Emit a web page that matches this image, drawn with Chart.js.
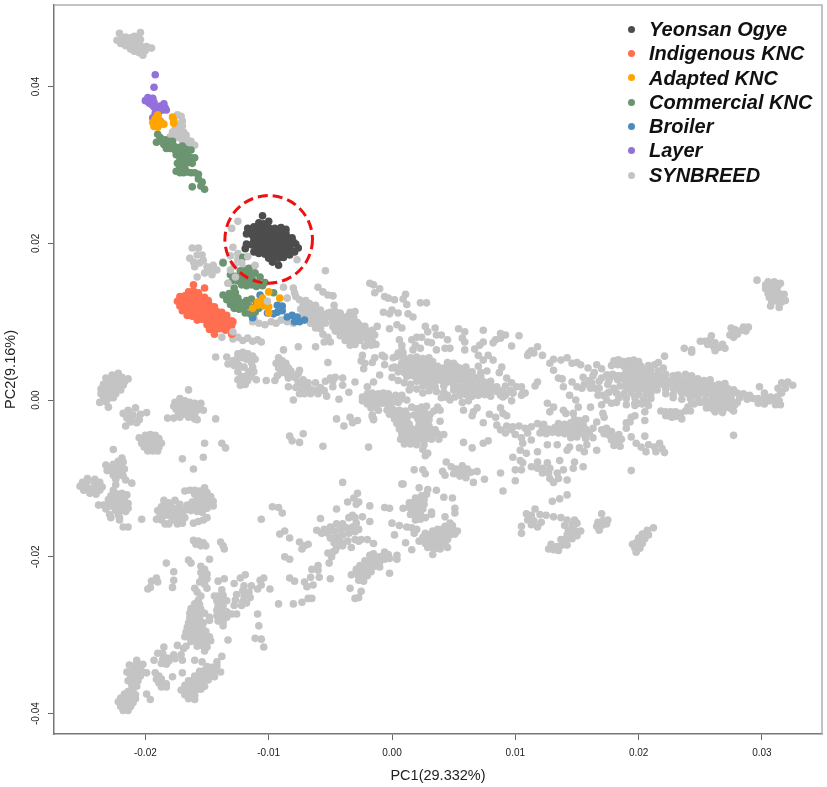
<!DOCTYPE html>
<html>
<head>
<meta charset="utf-8">
<script src="https://cdn.jsdelivr.net/npm/chart.js@4"></script>
<style>
html, body { margin: 0; padding: 0; background: #fff; }
#wrap { position: relative; width: 827px; height: 787px; }
#legend { position: absolute; left: 625px; top: 17px; font: italic bold 20px "Liberation Sans", sans-serif; color: #111; }
#legend div { height: 24.3px; line-height: 24.3px; white-space: nowrap; }
#legend i { display: inline-block; width: 7px; height: 7px; border-radius: 50%; margin: 0 14px 3px 3px; vertical-align: middle; }
</style>
</head>
<body>
<div id="wrap">
<canvas id="grafico" width="827" height="787"></canvas>
<div id="legend"></div>
</div>
<script>
// all scores are in units of 0.0001
const xTicks = [-0.02, -0.01, 0, 0.01, 0.02, 0.03];
const yTicks = [-0.04, -0.02, 0, 0.02, 0.04];
const seriesNames = ['Yeonsan Ogye', 'Indigenous KNC', 'Adapted KNC', 'Commercial KNC', 'Broiler', 'Layer', 'SYNBREED'];
const seriesColors = ['#4d4d4d', '#ff6e50', '#ffa500', '#6b9470', '#4a8bc0', '#9370db', '#c4c4c4'];

const yeonsan = [[-105,235],[-100,228],[-92,172],[-97,176],[-117,219],[-118,212],[-118,199],[-119,193],[-112,189],
[-108,226],[-104,225],[-112,221],[-108,220],[-104,222],[-100,220],[-95,219],[-90,220],[-86,218],
[-114,216],[-110,215],[-106,217],[-102,215],[-98,214],[-94,216],[-90,214],[-86,213],
[-113,210],[-109,209],[-105,211],[-101,209],[-97,210],[-93,208],[-89,210],[-85,208],[-81,207],
[-112,204],[-108,205],[-104,203],[-100,204],[-96,203],[-92,205],[-88,203],[-84,204],[-80,202],
[-114,198],[-110,199],[-106,197],[-102,199],[-98,197],[-94,198],[-90,199],[-86,197],[-82,198],[-78,199],
[-110,192],[-106,193],[-102,191],[-98,192],[-94,193],[-90,191],[-86,192],[-82,191],[-76,194],
[-108,187],[-103,186],[-99,187],[-95,185],[-91,186],[-87,187],[-83,185],[-79,189],[-100,181],[-96,180],[-92,181],[-88,182]];

const indigenous = [[-161,147],[-152,143],[-165,138],[-161,139],[-157,137],[-172,132],[-168,133],[-164,131],[-160,133],[-156,132],[-152,131],
[-174,126],[-170,127],[-166,125],[-162,127],[-158,125],[-154,126],[-149,127],[-172,120],[-168,121],[-164,119],[-160,121],[-156,119],[-152,120],[-148,121],[-144,119],
[-170,114],[-166,115],[-162,113],[-158,115],[-154,113],[-150,114],[-146,115],[-142,113],[-138,112],[-166,108],[-162,107],[-158,109],[-154,107],[-150,108],[-146,107],[-142,109],[-138,107],[-134,108],
[-158,102],[-154,103],[-150,101],[-146,103],[-142,101],[-138,102],[-134,103],[-130,101],[-150,96],[-146,95],[-142,97],[-138,95],[-134,96],[-130,95],[-148,90],[-144,89],[-140,91],[-135,89],[-131,90],[-144,84],[-130,84],[-129,100]];

const adapted = [[-190,364],[-192,359],[-189,357],[-194,354],[-191,352],[-188,352],[-193,349],[-190,348],[-187,354],[-185,352],[-178,361],[-177,357],[-177,353],
[-100,138],[-91,130],[-105,130],[-109,125],[-113,117],[-105,125],[-100,119],[-100,111],[-109,121],[-104,120]];

const commercial = [[-190,339],[-188,335],[-191,329],[-187,330],[-184,332],[-181,330],[-178,330],[-185,326],[-182,326],[-179,325],[-176,323],[-173,322],[-170,324],[-183,321],[-180,321],[-176,319],[-173,318],[-170,318],[-167,320],[-163,319],[-175,313],[-172,314],[-169,313],[-166,314],[-172,308],[-169,308],[-166,308],[-163,309],[-160,309],[-174,302],[-171,302],[-168,303],[-165,303],[-162,302],[-175,292],[-172,297],[-168,296],[-172,290],[-169,290],[-166,291],[-163,290],[-160,290],[-157,288],[-157,282],[-154,278],[-162,272],[-152,269],[-155,273],
[-121,182],[-137,175],[-131,160],[-127,158],[-123,160],[-119,158],[-115,160],[-111,162],[-107,157],[-103,150],[-129,153],[-125,152],[-121,153],[-117,152],[-113,153],[-109,150],[-105,146],[-122,147],[-118,146],[-114,147],[-110,145],[-123,165],[-119,165],[-116,168],
[-128,143],[-137,134],[-132,136],[-127,137],[-134,128],[-129,129],[-125,130],[-131,122],[-127,123],[-122,124],[-128,117],[-124,116],[-118,127],[-114,129],[-110,124],[-120,118],[-116,120],[-112,118],[-108,117],[-119,111],[-115,110],[-111,112],[-96,137]];

const broiler = [[-107,134],[-105,128],[-113,105],[-101,111],[-93,121],[-89,120],[-93,112],[-89,114],[-96,110],[-85,106],[-81,108],[-79,100],[-75,100],[-71,102],[-77,106]];

const layer = [[-192,415],[-193,399],[-200,382],[-198,386],[-196,383],[-194,385],[-197,379],[-195,377],[-193,380],[-193,374],[-190,372],[-188,375],[-185,378],[-184,373],[-186,370],[-183,370],[-189,368],[-192,366],[-190,363],[-194,360],[-192,356],[-188,356]];

// a few SYNBREED dots sit on top of the coloured ones
const synbreedOver = [[-101,126],[-127,157],[-133,149],[-129,87],[-138,80],[-122,175],[-131,166],[-111,172],[-117,183]];

const synbreedTopLeft = [[-221,468],[-204,469],[-223,459],[-219,461],[-216,463],[-212,462],[-209,464],[-206,463],[-204,460],[-220,455],[-217,456],[-214,458],[-211,457],[-208,458],[-205,456],[-216,452],[-213,452],[-210,453],[-207,452],[-204,452],[-201,450],[-199,451],[-195,449],[-212,448],[-209,448],[-206,447],[-203,446],[-200,446],[-202,440],[-205,443],[-209,445],
[-174,364],[-171,362],[-170,356],[-172,352],[-170,350],[-176,345],[-178,342],[-174,343],[-180,336],[-176,338],[-172,340],[-169,342],[-173,335],[-169,336],[-167,338],[-170,331],[-166,332],[-163,330],[-160,325],[-165,327]];

const synbreedCircle = [[-162,194],[-157,194],[-164,181],[-158,185],[-154,185],[-160,170],[-156,175],[-150,170],[-145,172],[-142,166],[-158,157],[-152,162],[-146,160],[-161,176],[-153,178],[-148,165],
[-125,228],[-130,219],[-129,195],[-131,184],[-137,176],[-119,195],[-125,187],[-122,175],[-127,157],[-133,149],[-77,179],[-54,165],[-88,144],[-80,143],[-125,180],[-128,172],[-120,168],[-112,170]];

const synbreedNearBroiler = [[-60,144],[-56,138],[-52,134],[-48,133],[-79,137],[-78,132],[-85,130],[-75,128],[-70,127],[-72,122],[-67,123],[-62,121],[-74,116],[-70,117],[-66,115],[-62,116],[-58,115],[-72,110],[-68,111],[-64,109],[-60,110],[-56,109],[-52,111],[-72,104],[-67,105],[-63,103],[-59,104],[-55,103],[-66,98],[-62,99],[-58,97],[-54,98],[-62,92],[-58,91],
[-56,84],[-52,80],[-55,74],[-50,74],[-113,100],[-108,98],[-103,96],[-98,100],[-94,98],[-90,102],[-85,100],[-80,98],[-112,104],[-129,78],[-125,80],[-121,76],[-117,79],[-113,75],[-109,77],[-106,74],[-88,64],[-76,68],[-62,68]];

const synbreedLeft = [[-222,34],[-227,32],[-232,28],[-224,29],[-219,29],[-214,27],[-229,24],[-225,24],[-221,23],[-217,23],[-234,20],[-230,19],[-226,18],[-222,18],[-218,19],[-236,14],[-232,13],[-228,13],[-224,13],[-220,13],[-236,8],[-232,8],[-228,7],[-224,8],[-234,3],[-230,2],[-226,3],[-237,-3],[-232,-2],[-230,-9],
[-208,-10],[-214,-13],[-218,-17],[-213,-16],[-210,-19],[-199,-16],[-204,-18],[-205,-25],[-216,-33],[-212,-28],[-207,-29],[-215,-23],[-211,-23],
[-165,13],[-172,2],[-176,-3],[-168,-1],[-164,-3],[-160,-4],[-155,-4],[-177,-8],[-173,-7],[-169,-7],[-165,-8],[-161,-9],[-156,-9],[-175,-12],[-171,-13],[-167,-13],[-163,-14],[-158,-13],[-153,-13],[-173,-18],[-169,-18],[-165,-18],[-160,-18],[-182,-23],[-177,-23],[-172,-22],[-165,-22],[-160,-24],[-158,-25],[-143,-24],
[-205,-48],[-200,-45],[-196,-44],[-192,-45],[-201,-50],[-197,-50],[-193,-50],[-189,-49],[-203,-55],[-199,-55],[-195,-55],[-191,-54],[-187,-55],[-201,-60],[-197,-60],[-193,-60],[-189,-60],[-198,-65],[-194,-65],[-190,-65],
[-152,-55],[-138,-55],[-135,-61],[-226,-63],[-170,-75],[-153,-73],[-161,-88],
[-219,-74],[-218,-79],[-222,-78],[-226,-82],[-220,-83],[-232,-83],[-229,-86],[-225,-87],[-221,-87],[-217,-88],[-231,-90],[-227,-91],[-223,-92],[-219,-92],[-226,-96],[-222,-96],[-218,-97],[-224,-101],
[-247,-100],[-241,-101],[-251,-105],[-247,-104],[-241,-106],[-237,-105],[-253,-110],[-249,-110],[-238,-110],[-235,-111],[-250,-115],[-245,-113],[-241,-115],[-237,-115],[-245,-119],[-240,-120],[-224,-108],[-216,-102],[-211,-106],
[-226,-115],[-223,-120],[-219,-119],[-215,-121],[-228,-122],[-225,-126],[-221,-125],[-217,-126],[-230,-127],[-226,-131],[-222,-131],[-218,-131],[-214,-132],[-238,-134],[-234,-134],[-230,-135],[-226,-136],[-222,-137],[-218,-137],[-214,-138],[-232,-139],[-224,-141],[-220,-141],[-216,-142],[-229,-146],[-222,-146],[-228,-150],[-221,-150],[-221,-153],[-218,-162],[-214,-162],[-203,-152],
[-185,-128],[-181,-131],[-176,-128],[-172,-133],[-166,-134],[-187,-136],[-183,-136],[-179,-136],[-175,-138],[-171,-139],[-167,-140],[-190,-141],[-186,-142],[-182,-142],[-178,-143],[-174,-144],[-170,-144],[-188,-147],[-184,-147],[-180,-148],[-176,-149],[-172,-149],[-168,-150],[-191,-152],[-187,-153],[-178,-153],[-174,-154],[-170,-153],[-184,-158],[-181,-158],[-174,-158],[-170,-157],
[-168,-116],[-164,-115],[-160,-115],[-156,-116],[-152,-112],[-150,-118],[-160,-120],[-155,-121],[-151,-122],[-147,-123],[-158,-125],[-153,-126],[-148,-127],[-145,-129],[-162,-130],[-157,-131],[-152,-132],[-148,-133],[-145,-135],[-160,-136],[-155,-137],[-150,-138],[-163,-141],[-158,-142],[-154,-143],[-161,-157],[-157,-155],[-153,-153],[-150,-150],
[-161,-179],[-157,-180],[-153,-182],[-159,-184],[-155,-186],[-151,-186],[-139,-181],[-137,-186],[-136,-190]];

const synbreedLowerLeft = [[-183,-208],[-165,-204],[-163,-208],[-148,-203],[-177,-219],[-177,-230],[-178,-239],[-191,-227],[-195,-231],[-190,-232],[-198,-241],[-196,-239],
[-155,-212],[-152,-216],[-155,-220],[-150,-222],[-154,-227],[-150,-228],[-156,-232],[-152,-235],[-150,-240],[-160,-240],[-158,-245],[-155,-250],[-157,-255],
[-160,-260],[-156,-261],[-163,-266],[-159,-265],[-155,-267],[-164,-272],[-160,-271],[-156,-273],[-152,-272],[-164,-278],[-160,-279],[-156,-277],[-165,-284],[-161,-283],[-157,-285],[-153,-284],[-166,-290],[-162,-291],[-158,-289],[-154,-290],[-167,-296],[-163,-295],[-159,-297],[-155,-296],[-151,-295],[-168,-302],[-164,-303],[-160,-301],[-156,-302],[-152,-303],[-148,-302],[-163,-308],[-159,-307],[-155,-309],[-151,-308],[-147,-307],[-158,-314],[-154,-313],[-150,-315],[-152,-320],
[-141,-231],[-136,-228],[-138,-242],[-144,-250],[-141,-250],[-137,-249],[-142,-256],[-138,-257],[-134,-256],[-141,-262],[-137,-263],[-142,-268],[-138,-269],[-134,-270],[-142,-275],[-138,-276],[-134,-277],[-130,-273],[-126,-273],[-141,-282],[-137,-283],[-137,-288],[-148,-281],[-148,-277],
[-119,-223],[-123,-227],[-128,-234],[-120,-237],[-114,-237],[-109,-241],[-121,-243],[-116,-245],[-126,-248],[-120,-250],[-115,-252],[-127,-255],[-121,-257],[-118,-259],[-128,-262],[-122,-262],
[-107,-230],[-104,-227],[-106,-236],[-99,-241],[-109,-273],[-108,-288],[-111,-304],[-106,-305],[-104,-315],[-133,-306],
[-185,-315],[-174,-313],[-167,-314],[-169,-317],[-190,-323],[-193,-332],[-186,-323],[-182,-329],[-177,-325],[-186,-331],[-181,-333],[-176,-330],[-170,-332],[-171,-325],[-183,-337],[-187,-336],
[-207,-332],[-213,-338],[-209,-339],[-205,-340],[-202,-337],[-215,-347],[-211,-346],[-207,-347],[-203,-346],[-199,-348],[-212,-352],[-208,-353],[-204,-352],[-214,-358],[-210,-359],[-206,-358],[-211,-364],[-207,-365],
[-210,-369],[-214,-372],[-217,-375],[-212,-377],[-208,-376],[-220,-380],[-216,-381],[-212,-382],[-208,-381],[-222,-385],[-218,-386],[-214,-387],[-210,-386],[-220,-391],[-216,-392],[-212,-391],[-218,-396],[-214,-396],[-199,-375],[-196,-382],
[-192,-348],[-189,-352],[-191,-356],[-187,-356],[-189,-361],[-186,-362],[-183,-362],[-187,-366],[-183,-366],
[-138,-327],[-142,-334],[-139,-347],[-160,-332],[-154,-334],[-178,-353],[-170,-348],[-150,-340],[-146,-341],[-142,-339],[-156,-346],[-152,-345],[-148,-347],[-144,-346],[-160,-352],[-156,-353],[-152,-351],[-148,-352],[-144,-353],[-165,-358],[-161,-357],[-157,-359],[-153,-358],[-149,-357],[-168,-364],[-164,-365],[-160,-363],[-156,-364],[-152,-365],[-171,-370],[-167,-369],[-163,-371],[-159,-370],[-155,-369],[-168,-376],[-164,-375],[-160,-377],[-165,-381],[-160,-382]];

const synbreedLowerMid = [[-106,-152],[-97,-136],[-92,-137],[-89,-144],[-91,-171],[-87,-167],[-83,-176],[-75,-181],[-71,-186],[-73,-190],[-68,-184],[-87,-200],[-83,-203],[-61,-166],[-58,-151],
[-45,-139],[-36,-130],[-31,-125],[-28,-119],[-27,-130],[-29,-133],[-32,-147],[-29,-157],[-24,-149],[-18,-135],[-18,-155],
[-55,-165],[-50,-162],[-45,-158],[-40,-158],[-35,-150],[-30,-150],[-57,-170],[-52,-170],[-47,-167],[-42,-165],[-37,-163],[-32,-162],[-27,-165],[-50,-176],[-45,-174],[-40,-172],[-35,-170],[-30,-168],[-47,-182],[-42,-180],[-36,-180],[-30,-178],[-25,-178],[-20,-178],[-15,-183],[-45,-188],[-40,-186],[-33,-188],[-27,-180],[-48,-194],[-49,-200],[-46,-192],[-52,-195],
[-6,-194],[-3,-197],[-15,-196],[-18,-198],[-14,-201],[-10,-200],[-6,-203],[-2,-202],[-22,-205],[-18,-206],[-14,-207],[-10,-207],[-26,-211],[-22,-212],[-18,-213],[-14,-212],[-10,-213],[-29,-216],[-25,-218],[-21,-218],[-17,-219],[-28,-223],[-24,-224],[-20,-224],[-27,-230],[-23,-231],[-33,-223],[-34,-240],[-30,-253],[-27,-252],[-25,-244],[-2,-221],[4,-198],[4,-203],
[-92,-260],[-80,-260],[-73,-258],[-68,-253],[-65,-253],[-83,-227],[-79,-231],[-71,-232],[-69,-238],[-64,-236],[-66,-226],[-59,-226],[-50,-228],[-65,-216],[-60,-211],[-60,-217],[-51,-208],[-40,-105],[8,-107],
[-6,-137],[-2,-138],[9,-107],[22,-112],[29,-114],[36,-115],[42,-124],[49,-125],[51,-138],[51,-144],[43,-149],[9,-138],[32,-143],[32,-146],
[28,-120],[24,-122],[19,-125],[26,-127],[22,-128],[18,-130],[14,-131],[26,-133],[22,-134],[18,-135],[14,-137],[25,-139],[21,-140],[17,-141],[23,-146],[19,-147],[15,-146],[27,-150],[23,-152],[19,-153],
[53,-167],[49,-160],[47,-157],[43,-161],[49,-165],[45,-166],[41,-165],[37,-165],[33,-167],[51,-171],[47,-172],[43,-172],[39,-172],[35,-172],[31,-172],[27,-170],[45,-178],[41,-178],[37,-178],[33,-178],[29,-178],[25,-175],[43,-184],[39,-184],[35,-184],[31,-184],[27,-183],[39,-190],[34,-190],[29,-188],[45,-188],
[16,-191],[11,-182],[2,-172],[0,-157],[6,-160],[12,-162],[16,-163],[20,-165],[18,-170],[22,-180],[33,-197],
[44,-79],[18,-89],[25,-89],[27,-94],[41,-91],[43,-96],[48,-85],[52,-88],[57,-84],[61,-88],[54,-91],[58,-93],[64,-92],[69,-91],[50,-94],[55,-97],[60,-99],[66,-105],[75,-101],[88,-93],[100,-103],[90,-116]];

const synbreedCenter = [[-19,-60],[58,-54],[65,-61],[74,-55],[78,-52],[74,-29],[-43,1],[-35,10],[-30,23],[-40,28],[-40,19],[-46,29],[-24,4],[-20,17],[-15,23],[-10,32],
[-20,8],[-16,9],[-11,8],[-7,9],[-3,8],[3,6],[8,6],[-24,-1],[-19,2],[-14,3],[-10,2],[-6,3],[-2,3],[3,1],[7,1],[12,0],[-20,-5],[-16,-4],[-12,-4],[-8,-4],[-4,-4],[0,-3],[5,-3],[-17,-10],[-13,-9],[-3,-10],[-16,-21],[-15,-25],[-11,-13],
[-4,-13],[1,-12],[6,-13],[11,-14],[16,-9],[20,-11],[24,-9],[28,-8],[-2,-18],[3,-18],[8,-19],[13,-20],[18,-19],[22,-17],[27,-17],[31,-18],[34,-14],[2,-24],[7,-25],[12,-26],[21,-24],[25,-25],[30,-25],[4,-30],[9,-31],[14,-31],[22,-31],[26,-32],[30,-33],[6,-37],[11,-38],[16,-37],[20,-37],[24,-38],[28,-39],[32,-38],[35,-38],[8,-43],[12,-44],[16,-44],[20,-44],[24,-44],[28,-44],[33,-44],[37,-43],[42,-44],[7,-50],[12,-50],[17,-50],[22,-50],[27,-50],[32,-50],[38,-50],[10,-56],[15,-56],[20,-57],[26,-57],[25,-63],[27,-71],[29,-68],
[39,-27],[37,-9],[39,-13],[43,4],[47,0],[51,4],[57,-3],[62,-1],[58,-13],[66,-15],[65,-20],[69,-10],[79,-18],[88,-10],[90,-17],[84,-22],[93,-20],
[15,54],[20,55],[25,53],[30,54],[8,48],[13,47],[18,49],[23,48],[28,47],[33,49],[45,48],[50,47],[2,42],[7,43],[12,41],[17,42],[22,43],[27,41],[32,42],[37,43],[42,41],[47,42],[52,43],[55,41],[60,42],[70,43],
[5,36],[10,35],[15,37],[20,36],[25,35],[30,37],[35,36],[40,35],[45,37],[50,36],[55,35],[60,37],[65,36],[72,35],[77,37],[12,30],[17,31],[22,29],[27,30],[32,31],[37,29],[42,30],[47,31],[52,29],[57,30],[62,31],[67,29],[72,30],
[20,24],[25,25],[30,23],[35,24],[40,25],[45,23],[50,24],[55,25],[60,23],[65,24],[70,25],[75,23],[80,24],[25,18],[30,19],[35,17],[42,18],[50,19],[55,17],[60,18],[65,19],[70,17],[75,18],[80,19],[85,17],[92,18],[30,12],[50,13],[55,11],[60,12],[65,13],[70,11],[75,12],[80,13],[85,11],[90,12],[96,12],[55,6],[60,7],[65,5],[70,6],[75,7],[80,5],[88,6],
[5,25],[10,22],[15,20],[36,11],[42,10],[45,6],[40,3],[20,14],[25,9],[14,13],
[6,77],[8,70],[5,60],[9,60],[16,77],[19,70],[20,80],[24,80],[17,64],[23,66],[29,74],[32,73],[36,83],[40,83],[45,77],[43,66],[47,66],[36,64],[29,87],[27,94],[35,92],[4,56],[10,53],
[54,91],[59,87],[57,79],[59,74],[59,64],[74,89],[88,85],[92,83],[84,77],[82,73],[74,74],[71,70],[67,65],[70,57],[78,57],[74,51],[82,51],[103,82],[97,69],[88,79],[89,42],[87,35],[93,28],[97,22],[101,17],[105,17],[108,9],[105,6],[98,9],[92,6],
[-50,112],[-46,113],[-42,111],[-34,112],[-30,113],[-52,106],[-48,107],[-44,105],[-40,106],[-36,107],[-31,105],[-48,100],[-44,101],[-40,99],[-36,100],[-32,101],[-28,99],[-48,94],[-44,93],[-40,95],[-36,94],[-32,93],[-26,95],[-22,94],[-46,88],[-42,89],[-38,87],[-34,88],[-30,89],[-25,87],[-20,88],[-16,89],[-42,82],[-38,83],[-34,81],[-30,82],[-26,83],[-22,81],[-18,82],[-14,83],[-38,76],[-34,77],[-30,75],[-26,76],[-20,77],[-16,75],[-34,70],[-30,71],[-22,69],[-17,70],[-13,71],
[-12,94],[-2,91],[4,96],[8,92],[-18,149],[-15,147],[-10,142],[-14,137],[-6,132],[-3,130],[2,128],[11,135],[9,129],[12,122],[23,124],[28,124],[-7,112],[0,115],[5,111],[-2,110],[13,110],[17,106],[-48,133],[-47,121],
[-24,57],[-22,47],[-16,48],[-14,54],[-8,57],[-6,55],[-6,45],[0,41],[0,29],[1,54],[5,57],[8,64],[-25,50],[-23,40],[-20,0],[-16,-6],[-16,-19],[-15,-24],
[-143,55],[-134,55],[-133,46],[-129,50],[-125,59],[-121,61],[-117,59],[-113,56],[-111,52],[-126,52],[-122,54],[-118,52],[-114,48],[-128,44],[-124,44],[-120,42],[-113,42],[-125,36],[-116,36],[-112,36],[-122,30],[-118,31],[-114,30],[-125,26],[-121,24],[-117,25],[-123,19],[-119,20],[-110,26],[-102,25],[-95,25],[-93,31],
[-92,54],[-89,50],[-94,47],[-90,45],[-86,47],[-92,41],[-88,39],[-84,41],[-82,37],[-90,35],[-85,33],[-81,31],[-84,28],[-84,17],
[-75,38],[-76,34],[-78,28],[-72,26],[-76,22],[-72,20],[-68,22],[-78,16],[-74,14],[-70,14],[-66,14],[-62,12],[-58,16],[-54,24],[-50,28],[-48,24],[-48,17],[-75,8],[-71,8],[-66,8],[-60,8],[-55,12],[-53,5],[-80,0],[-62,22],[-52,48],
[-45,-24],[-39,-33],[-34,-22],[-32,-29],[-28,-26],[-83,-46],[-81,-52],[-75,-54],[-72,-43],[-56,-59]];

const synbreedRightMid = [[85,-32],[88,-38],[92,-42],[97,-38],[100,-44],[105,-48],[93,-33],[98,-34],[90,4],[98,9],[97,-1],[106,9],[103,-33],[108,-36],[113,-34],[118,-30],[123,-31],[110,-42],
[148,-25],[152,-26],[157,-24],[135,-30],[140,-31],[145,-29],[150,-30],[155,-31],[122,-36],[127,-37],[132,-35],[137,-36],[142,-37],[147,-35],[152,-36],[157,-37],[120,-42],[125,-43],[130,-41],[135,-42],[140,-43],[145,-41],[150,-42],[155,-43],[160,-42],[145,-48],[150,-47],[157,-49],[163,-48],
[149,0],[151,-9],[139,-13],[131,-9],[126,-4],[128,-15],[147,-17],[141,-17],[161,-9],[170,-6],[171,-17],[172,-22],[166,-28],[163,-36],
[170,-38],[174,-36],[178,-40],[172,-43],[176,-45],[180,-46],[184,-44],[178,-51],[182,-52],[186,-50],[180,-58],[185,-59],[194,-47],[190,-36],[205,-46],[194,-22],[193,-28],[190,-29],[197,-20],
[198,-55],[202,-60],[208,-57],[213,-60],[217,-55],[219,-62],[214,-66],[206,-66],[221,-67],[166,-64],[158,-57],[156,-66],[152,-61],[144,-60],[142,-64],[134,-57],[126,-57],[113,-51],[106,-55],[104,-64],
[118,-66],[109,-68],[104,-77],[98,-73],[106,-80],[100,-89],[105,-89],[113,-85],[118,-79],[126,-80],[118,-87],[122,-87],[128,-87],[122,-93],[127,-93],[134,-93],[128,-100],[135,-100],[142,-102],[131,-105],[136,-77],[139,-89],[148,-79],[147,-87],[155,-85],[130,-129],[136,-126],[142,-121],[194,-90],
[116,-139],[109,-145],[105,-161],[105,-170],[113,-147],[120,-146],[125,-147],[131,-149],[137,-150],[142,-153],[148,-153],[110,-153],[115,-154],[121,-156],[140,-160],[146,-159],[150,-157],[113,-159],[118,-162],[143,-166],[148,-166],[153,-167],[142,-172],[147,-172],[150,-173],[137,-178],[141,-178],[146,-177],[138,-185],[142,-185],[131,-191],[134,-187],[127,-190],[135,-192],[129,-184],
[170,-145],[175,-153],[171,-154],[167,-156],[166,-161],[170,-160],[174,-158],[168,-166],
[212,-163],[207,-166],[203,-171],[208,-172],[200,-176],[205,-177],[198,-182],[203,-183],[195,-184],[197,-189],[201,-189],[198,-194]];

const synbreedRight = [[296,153],[305,151],[310,151],[315,149],[303,147],[308,146],[313,146],[303,142],[307,141],[312,141],[305,136],[309,136],[314,136],[318,135],[306,131],[311,131],[316,130],[319,127],[308,126],[312,126],[316,125],[307,120],[314,118],
[285,93],[289,93],[287,88],[282,88],[278,90],[275,92],[276,86],[280,84],[274,83],[277,80],[259,82],[258,77],[250,75],[254,75],[262,73],[268,71],[256,71],[261,68],[265,67],[270,66],[262,63],[237,66],[243,61],[243,64],[221,56],
[180,50],[184,51],[188,49],[192,50],[196,51],[200,49],[178,44],[183,45],[188,43],[192,44],[197,45],[202,43],[208,44],[213,45],[190,38],[195,39],[200,37],[205,38],[210,39],[216,37],[175,32],[179,33],[184,31],[188,32],[192,33],[197,31],[202,32],[207,33],[212,31],[217,32],[222,33],[228,31],[232,32],[238,33],[243,31],
[183,26],[188,27],[193,25],[198,26],[203,27],[208,25],[213,26],[218,27],[223,25],[228,26],[233,27],[238,25],[243,26],[248,27],[253,25],[258,26],[190,20],[195,21],[200,19],[205,20],[210,21],[215,19],[220,20],[225,21],[230,19],[235,20],[240,21],[245,19],[250,20],[255,21],[260,19],[265,20],[270,21],
[190,14],[195,15],[200,13],[205,14],[210,15],[215,13],[222,14],[228,15],[233,13],[238,14],[243,15],[248,13],[253,14],[258,15],[263,13],[268,14],[272,15],[277,13],[188,8],[194,9],[200,7],[206,8],[210,9],[222,8],[228,7],[235,9],[240,8],[245,7],[250,9],[255,8],[260,7],[265,9],[270,8],[275,7],[280,9],[285,8],
[190,2],[197,3],[204,1],[210,2],[228,3],[235,1],[242,2],[248,3],[254,1],[260,2],[265,3],[270,1],[275,2],[282,3],[288,1],[200,-4],[206,-3],[245,-5],[250,-3],[255,-4],[260,-5],[265,-3],[270,-4],[275,-5],[280,-3],[255,-10],[260,-11],[265,-9],[270,-10],[275,-11],[262,-15],[268,-16],[277,-14],
[298,17],[302,9],[307,4],[312,4],[315,9],[316,22],[321,23],[325,19],[319,15],[316,9],[313,15],[290,6],[293,2],[297,2],[302,2],[306,-1],[310,0],[314,-1],[297,-4],[302,-5],[311,-6],[315,-6],[278,-6],[277,-45],
[118,68],[113,63],[110,57],[115,60],[122,57],[111,60],[128,47],[131,52],[131,38],[137,51],[142,54],[146,47],[150,48],[153,45],[159,41],[166,45],[170,40],[164,35],[163,31],[168,24],[135,28],[138,27],[146,23],[155,29],[139,17],[150,17],[154,15],[161,15],[165,15],[167,6],[171,6],[175,9],[182,-3],[144,6],[118,23],[116,18],[174,0],[178,-4],[174,32],[178,30],[183,31],[187,28],[176,25],[181,47],[183,51],
[175,20],[180,15],[185,18],[176,10],[182,9],[184,3],[190,-6],[168,15],[160,25],[170,28],[162,22],[156,20],
[197,-4],[203,-5],[208,-7],[197,-7],[205,-26],[205,-15],[218,-14],[222,-15],[226,-15],[230,-15],[234,-17],[238,-14],[242,-14],[222,-20],[226,-21],[230,-21],[235,-24],[227,-22],[243,-4],[240,-9],[220,41],[216,48]];

const synbreed = [].concat(synbreedTopLeft, synbreedCircle, synbreedNearBroiler, synbreedLeft, synbreedLowerLeft, synbreedLowerMid, synbreedCenter, synbreedRightMid, synbreedRight);
const ringCenter = [-100, 205];
const ringRadiusX = 0.00355;

const toPoints = list => list.map(p => ({ x: p[0] * 1e-4, y: p[1] * 1e-4 }));
const makeSet = (label, list, color) => ({
    label: label,
    data: toPoints(list),
    backgroundColor: color,
    borderWidth: 0,
    pointRadius: 3.8,
    pointHoverRadius: 3.8
});

// first dataset is drawn last, so it sits on top
const dataSets = [
    makeSet('SYNBREED', synbreedOver, seriesColors[6]),
    makeSet(seriesNames[0], yeonsan, seriesColors[0]),
    makeSet(seriesNames[1], indigenous, seriesColors[1]),
    makeSet(seriesNames[2], adapted, seriesColors[2]),
    makeSet(seriesNames[3], commercial, seriesColors[3]),
    makeSet(seriesNames[4], broiler, seriesColors[4]),
    makeSet(seriesNames[5], layer, seriesColors[5]),
    makeSet(seriesNames[6], synbreed, seriesColors[6])
];

const framePlugin = {
    id: 'frame',
    beforeDatasetsDraw(chart) {
        const a = chart.chartArea;
        const ctx = chart.ctx;
        ctx.save();
        ctx.strokeStyle = '#b0b0b0';
        ctx.lineWidth = 1.5;
        ctx.beginPath();
        ctx.moveTo(a.left, a.top);
        ctx.lineTo(a.right, a.top);
        ctx.lineTo(a.right, a.bottom);
        ctx.stroke();
        ctx.restore();
    },
    afterDatasetsDraw(chart) {
        const ctx = chart.ctx;
        const cx = chart.scales.x.getPixelForValue(ringCenter[0] * 1e-4);
        const cy = chart.scales.y.getPixelForValue(ringCenter[1] * 1e-4);
        const r = chart.scales.x.getPixelForValue(ringCenter[0] * 1e-4 + ringRadiusX) - cx;
        ctx.save();
        ctx.strokeStyle = '#ee1111';
        ctx.lineWidth = 3;
        ctx.setLineDash([10, 5]);
        ctx.beginPath();
        ctx.arc(cx, cy, r, 0, Math.PI * 2);
        ctx.stroke();
        ctx.restore();
    }
};

new Chart(document.getElementById('grafico'), {
    type: 'scatter',
    data: { datasets: dataSets },
    plugins: [framePlugin],
    options: {
        responsive: false,
        animation: false,
        layout: { padding: { top: 5, right: 5, left: 2, bottom: 2 } },
        plugins: { legend: { display: false }, tooltip: { enabled: false } },
        scales: {
            x: {
                type: 'linear',
                min: -0.02741,
                max: 0.03487,
                afterBuildTicks: s => { s.ticks = xTicks.map(v => ({ value: v })); },
                afterFit: s => { s.height = 51; s.paddingLeft = 0; s.paddingRight = 0; },
                grid: { drawOnChartArea: false, tickLength: 6, color: '#666' },
                border: { color: '#777', width: 1.5 },
                ticks: {
                    autoSkip: false, maxRotation: 0, padding: 7, color: '#222',
                    font: { family: 'Liberation Sans', size: 10 },
                    callback: v => v.toFixed(2)
                },
                title: { display: true, text: 'PC1(29.332%)', color: '#222', padding: { top: 4, bottom: 0 }, font: { family: 'Liberation Sans', size: 14.5 } }
            },
            y: {
                type: 'linear',
                min: -0.0426,
                max: 0.0504,
                afterBuildTicks: s => { s.ticks = yTicks.map(v => ({ value: v })); },
                afterFit: s => { s.width = 52; s.paddingTop = 0; s.paddingBottom = 0; },
                grid: { drawOnChartArea: false, tickLength: 6, color: '#666' },
                border: { color: '#777', width: 1.5 },
                ticks: {
                    autoSkip: false, minRotation: 90, maxRotation: 90, padding: 0, color: '#222', crossAlign: 'center',
                    font: { family: 'Liberation Sans', size: 10 },
                    callback: v => v.toFixed(2)
                },
                title: { display: true, text: 'PC2(9.16%)', color: '#222', padding: { top: 0, bottom: 4 }, font: { family: 'Liberation Sans', size: 14.5 } }
            }
        }
    }
});

const legendBox = document.getElementById('legend');
seriesNames.forEach((name, i) => {
    const row = document.createElement('div');
    const dot = document.createElement('i');
    dot.style.background = seriesColors[i];
    row.appendChild(dot);
    row.appendChild(document.createTextNode(name));
    legendBox.appendChild(row);
});
</script>
</body>
</html>
